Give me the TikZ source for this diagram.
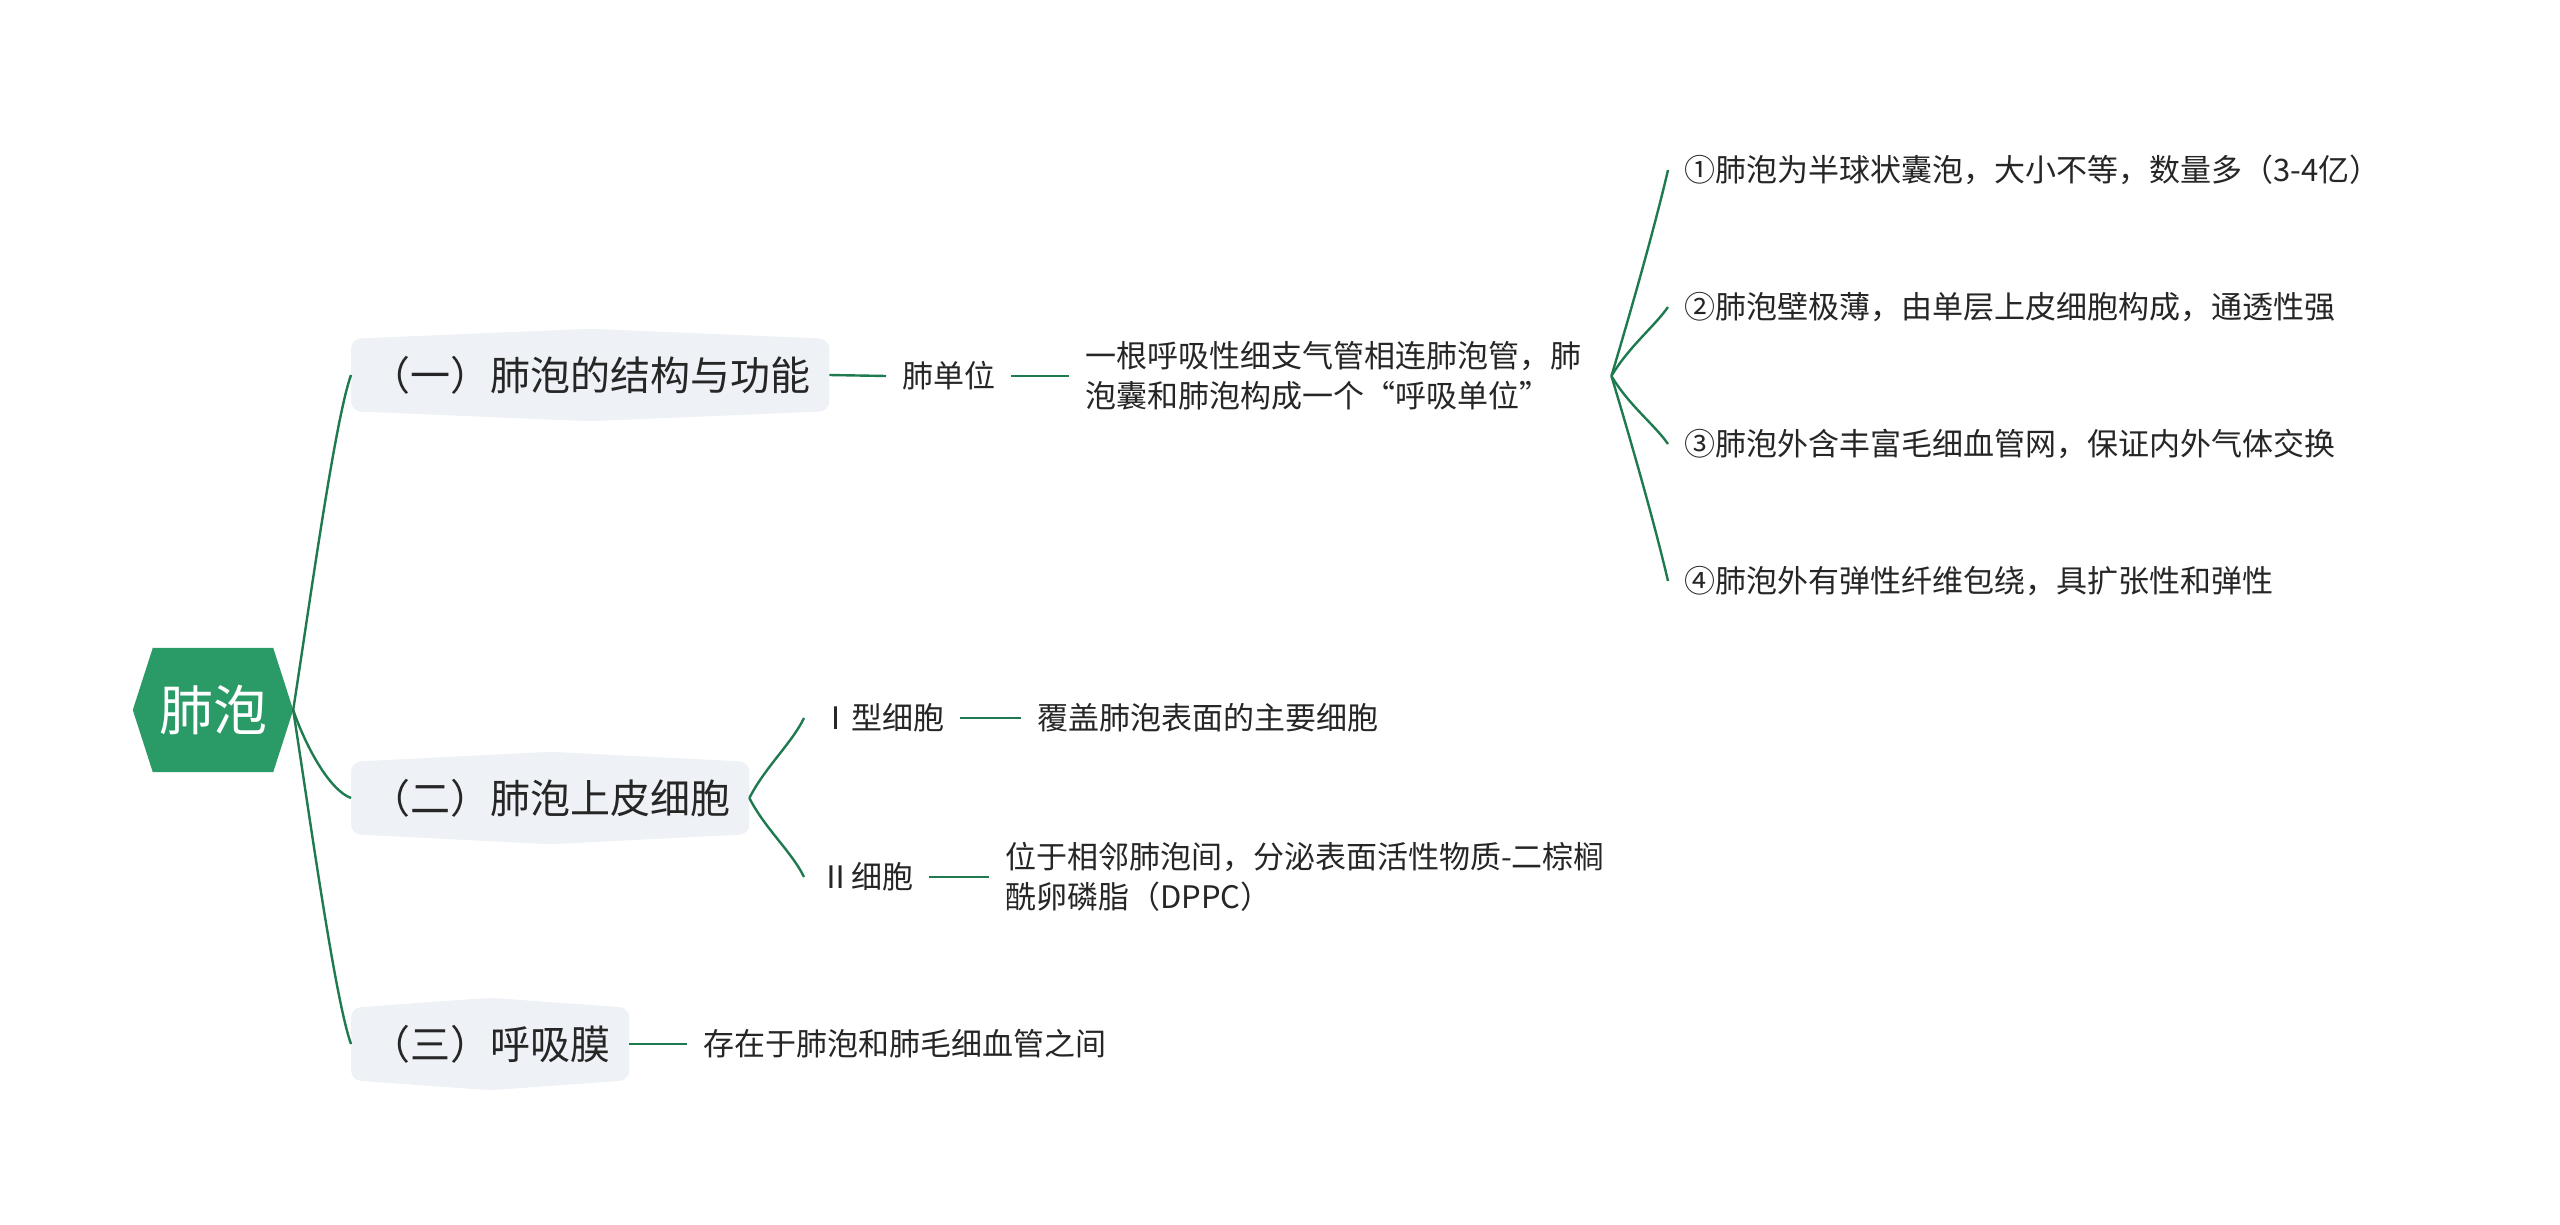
\documentclass[tikz,border=0pt]{standalone}
\usepackage{fontspec}
\setmainfont{Noto Sans CJK SC}
\usepackage{xcolor}
\definecolor{rootgreen}{HTML}{2A9A66}
\definecolor{linkgreen}{HTML}{1F7A4F}
\definecolor{topicgray}{HTML}{EEF1F5}
\definecolor{inkgray}{HTML}{262626}
\usepackage{tikz}
\usetikzlibrary{positioning,backgrounds,calc}
\tikzset{
  rootnode/.style ={minimum width=160pt, minimum height=124pt, inner sep=0pt,
                    text=white, font=\fontsize{54}{60}\selectfont},
  topic/.style    ={anchor=west, minimum height=72pt, inner xsep=19pt, inner ysep=0pt,
                    text=inkgray, font=\fontsize{40}{48}\selectfont},
  leaf/.style     ={anchor=west, inner xsep=16pt, inner ysep=4pt, align=left,
                    text=inkgray, font=\fontsize{31}{40}\selectfont},
  link/.style     ={draw=linkgreen, line width=2.4pt},
  rootfill/.style ={fill=rootgreen},
  topicfill/.style={fill=topicgray, rounded corners=10pt},
}

\begin{document}
\begin{tikzpicture}[x=1pt, y=-1pt]
  \useasboundingbox (0,0) rectangle (2560,1225);

  % centre and the three topics
  \node[rootnode] (root) at (213,710) {肺泡};
  \node[topic] (c1) at (351,375)  {（一）肺泡的结构与功能};
  \node[topic] (c2) at (351,798)  {（二）肺泡上皮细胞};
  \node[topic] (c3) at (351,1044) {（三）呼吸膜};

  % (一)
  \node[leaf] (unit)     at (886,376)  {肺单位};
  \node[leaf, text width=510pt] (unitdesc) at (1069,376)
        {一根呼吸性细支气管相连肺泡管，肺\\泡囊和肺泡构成一个“呼吸单位”};
  \node[leaf] (p1) at (1668,170) {①肺泡为半球状囊泡，大小不等，数量多（3-4亿）};
  \node[leaf] (p2) at (1668,307) {②肺泡壁极薄，由单层上皮细胞构成，通透性强};
  \node[leaf] (p3) at (1668,444) {③肺泡外含丰富毛细血管网，保证内外气体交换};
  \node[leaf] (p4) at (1668,581) {④肺泡外有弹性纤维包绕，具扩张性和弹性};

  % (二)
  \node[leaf] (type1)     at (804,718)  {Ⅰ型细胞};
  \node[leaf] (type1desc) at (1021,718) {覆盖肺泡表面的主要细胞};
  \node[leaf] (type2)     at (804,877)  {Ⅱ细胞};
  \node[leaf] (type2desc) at (989,877)
        {位于相邻肺泡间，分泌表面活性物质-二棕榈\\酰卵磷脂（DPPC）};

  % (三)
  \node[leaf] (memdesc) at (687,1044) {存在于肺泡和肺毛细血管之间};

  \begin{scope}[on background layer]
    \fill[white] (0,0) rectangle (2560,1225);
    \fill[rootfill] (root.west) -- ([xshift=20pt]root.north west) -- ([xshift=-20pt]root.north east)
      -- (root.east) -- ([xshift=-20pt]root.south east) -- ([xshift=20pt]root.south west) -- cycle;
    \fill[topicfill] (c1.south west) -- (c1.north west) -- ([yshift=10pt]c1.north) -- (c1.north east)
      -- (c1.south east) -- ([yshift=-10pt]c1.south) -- cycle;
    \fill[topicfill] (c2.south west) -- (c2.north west) -- ([yshift=10pt]c2.north) -- (c2.north east)
      -- (c2.south east) -- ([yshift=-10pt]c2.south) -- cycle;
    \fill[topicfill] (c3.south west) -- (c3.north west) -- ([yshift=10pt]c3.north) -- (c3.north east)
      -- (c3.south east) -- ([yshift=-10pt]c3.south) -- cycle;
  \end{scope}

  % connectors
  \draw[link] (root.east) .. controls +(17,-110) and +(-16,45) .. (c1.west);
  \draw[link] (root.east) .. controls +(12,35) and +(-22,-8) .. (c2.west);
  \draw[link] (root.east) .. controls +(17,110) and +(-16,-45) .. (c3.west);

  \draw[link] (c1.east) -- (unit.west);
  \draw[link] (unit.east) -- (unitdesc.west);
  \draw[link] (unitdesc.east) .. controls +(18,-60) and +(-14,60) .. (p1.west);
  \draw[link] (unitdesc.east) .. controls +(18,-30) and +(-14,20) .. (p2.west);
  \draw[link] (unitdesc.east) .. controls +(18,30) and +(-14,-20) .. (p3.west);
  \draw[link] (unitdesc.east) .. controls +(18,60) and +(-14,-60) .. (p4.west);

  \draw[link] (c2.east) .. controls +(15,-30) and +(-12,25) .. (type1.west);
  \draw[link] (c2.east) .. controls +(15,30) and +(-12,-25) .. (type2.west);
  \draw[link] (type1.east) -- (type1desc.west);
  \draw[link] (type2.east) -- (type2desc.west);

  \draw[link] (c3.east) -- (memdesc.west);
\end{tikzpicture}
\end{document}
